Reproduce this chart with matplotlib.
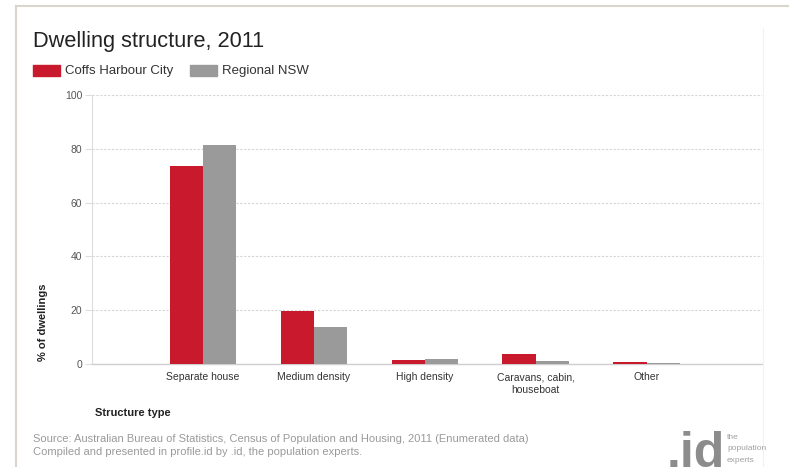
import matplotlib
matplotlib.use("Agg")
import matplotlib.pyplot as plt
import numpy as np

plt.rcParams["font.family"] = ["Liberation Sans", "DejaVu Sans"]

# data
categories = ["Separate house", "Medium density", "High density",
              "Caravans, cabin,\nhouseboat", "Other"]
coffs = [73.7, 19.7, 1.6, 3.8, 0.6]
regional = [81.4, 13.8, 2.0, 1.2, 0.4]
series_names = ["Coffs Harbour City", "Regional NSW"]
yticks = [0, 20, 40, 60, 80, 100]

RED = "#c8192d"
GRAY = "#9a9a9a"
FRAME = "#d9d5cc"

fig = plt.figure(figsize=(7.89, 4.67), dpi=100)
W, H = 789, 467

def px(x, y):
    return x / W, 1 - y / H

# plot area in pixel terms
left, right, top, bottom = 92, 762, 95, 364
ax = fig.add_axes([left / W, 1 - bottom / H, (right - left) / W, (bottom - top) / H])

x = np.arange(len(categories))
bw = 0.30
ax.bar(x - bw / 2, coffs, bw, color=RED, zorder=3)
ax.bar(x + bw / 2, regional, bw, color=GRAY, zorder=3)

ax.set_xlim(-1.0, 5.04)
ax.set_ylim(0, 100)
ax.set_yticks(yticks)
ax.set_yticklabels([str(t) for t in yticks], fontsize=7.5, color="#555555")
ax.set_xticks(x)
ax.set_xticklabels(categories, fontsize=7.5, color="#333333", linespacing=1.3)
ax.tick_params(axis="x", length=0, pad=6)
ax.tick_params(axis="y", length=5, width=0.8, color="#dddddd", pad=2)
ax.grid(axis="y", color="#d5d5d5", linestyle=(0, (2, 1.5)), linewidth=0.8, zorder=0)
for s in ["top", "right"]:
    ax.spines[s].set_visible(False)
ax.spines["left"].set_color("#dddddd")
ax.spines["bottom"].set_color("#cfcfcf")
ax.spines["left"].set_linewidth(0.8)
ax.spines["bottom"].set_linewidth(1.0)

# outer frame lines
fig.add_artist(plt.Line2D([16 / W, 1], [1 - 6 / H] * 2, color=FRAME, lw=1.5))
fig.add_artist(plt.Line2D([16 / W] * 2, [0, 1 - 6 / H], color=FRAME, lw=1.5))
fig.add_artist(plt.Line2D([763 / W] * 2, [0, 1 - 28 / H], color="#f2f2f2", lw=0.8))

# title and legend
fig.text(*px(33, 42), "Dwelling structure, 2011", fontsize=15.7, color="#222222", va="center")
fig.patches.append(plt.Rectangle(px(33, 76), 27 / W, 11 / H, color=RED, transform=fig.transFigure))
fig.text(*px(65, 71), series_names[0], fontsize=9.5, color="#333333", va="center")
fig.patches.append(plt.Rectangle(px(190, 76), 27 / W, 11 / H, color=GRAY, transform=fig.transFigure))
fig.text(*px(222, 71), series_names[1], fontsize=9.5, color="#333333", va="center")

# axis titles
fig.text(*px(43, 322), "% of dwellings", rotation=90, fontsize=8, fontweight="bold",
         color="#222222", ha="center", va="center")
fig.text(*px(95, 413), "Structure type", fontsize=8, fontweight="bold",
         color="#222222", va="center")

# source notes
fig.text(*px(33, 439), "Source: Australian Bureau of Statistics, Census of Population and Housing, 2011 (Enumerated data)",
         fontsize=8, color="#9a9a9a", va="center")
fig.text(*px(33, 452), "Compiled and presented in profile.id by .id, the population experts.",
         fontsize=8, color="#9a9a9a", va="center")

# .id mark
fig.text(*px(667, 467), ".id", fontsize=36, fontweight="bold", color="#8c8c8c",
         va="baseline", ha="left")
fig.text(*px(727, 449), "the\npopulation\nexperts", fontsize=6, color="#a0a0a0",
         va="center", ha="left", linespacing=1.9)

fig.savefig("out.png", dpi=100, facecolor="white")
